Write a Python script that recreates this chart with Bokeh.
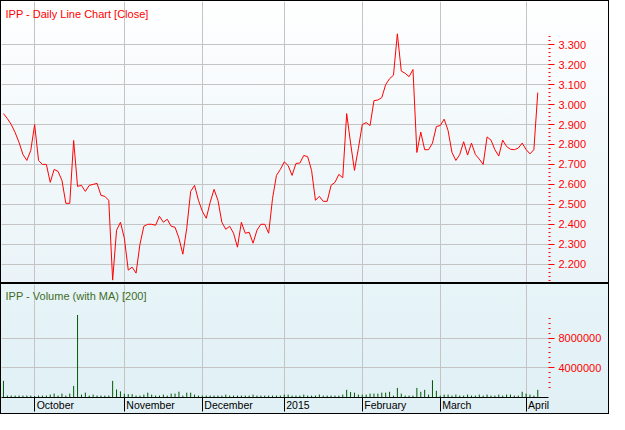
from bokeh.plotting import figure
from bokeh.layouts import column
from bokeh.models import FixedTicker, PrintfTickFormatter, Label, Range1d
from bokeh.embed import file_html
from bokeh.resources import INLINE

# ---------------- data ----------------
close = [
    2.955, 2.93, 2.90, 2.86, 2.81, 2.75, 2.72, 2.77, 2.90, 2.72,
    2.70, 2.70, 2.61, 2.675, 2.665, 2.62, 2.505, 2.505, 2.82, 2.59,
    2.595, 2.565, 2.595, 2.60, 2.605, 2.545, 2.54, 2.52, 2.12, 2.37,
    2.41, 2.33, 2.17, 2.185, 2.155, 2.30, 2.39, 2.40, 2.40, 2.395,
    2.44, 2.41, 2.425, 2.39, 2.385, 2.33, 2.25, 2.38, 2.565, 2.595,
    2.52, 2.465, 2.43, 2.51, 2.575, 2.52, 2.41, 2.375, 2.39, 2.355,
    2.285, 2.41, 2.355, 2.36, 2.305, 2.37, 2.40, 2.40, 2.355, 2.53,
    2.645, 2.675, 2.713, 2.694, 2.645, 2.705, 2.707, 2.745, 2.739, 2.67,
    2.52, 2.54, 2.515, 2.515, 2.595, 2.61, 2.65, 2.633, 2.955, 2.807,
    2.67, 2.78, 2.90, 2.91, 2.895, 3.02, 3.023, 3.035, 3.10, 3.13,
    3.147, 3.355, 3.168, 3.157, 3.14, 3.176, 2.76, 2.862, 2.774, 2.774,
    2.807, 2.89, 2.895, 2.927, 2.87, 2.76, 2.72, 2.75, 2.814, 2.747,
    2.807, 2.75, 2.727, 2.70, 2.838, 2.822, 2.774, 2.742, 2.822, 2.79,
    2.776, 2.774, 2.782, 2.807, 2.775, 2.753, 2.774, 3.06,
]

volume = [
    2240000, 260000, 260000, 260000, 260000, 260000, 260000, 260000, 200000, 260000,
    260000, 260000, 390000, 520000, 260000, 520000, 260000, 520000, 1550000, 11100000,
    390000, 650000, 260000, 390000, 260000, 260000, 260000, 260000, 2240000, 1080000,
    820000, 500000, 450000, 450000, 260000, 260000, 390000, 650000, 390000, 260000,
    260000, 390000, 260000, 520000, 520000, 780000, 260000, 650000, 650000, 390000,
    260000, 260000, 260000, 260000, 260000, 260000, 260000, 390000, 260000, 260000,
    260000, 260000, 260000, 260000, 390000, 260000, 260000, 260000, 260000, 260000,
    260000, 260000, 390000, 390000, 260000, 260000, 260000, 390000, 260000, 260000,
    260000, 390000, 260000, 260000, 260000, 260000, 260000, 390000, 1030000, 730000,
    650000, 390000, 390000, 390000, 520000, 520000, 520000, 650000, 650000, 770000,
    260000, 1290000, 520000, 260000, 260000, 260000, 1290000, 770000, 1030000, 390000,
    2320000, 900000, 260000, 390000, 390000, 260000, 390000, 260000, 260000, 390000,
    260000, 260000, 390000, 260000, 390000, 260000, 260000, 390000, 260000, 390000,
    390000, 260000, 260000, 770000, 520000, 390000, 260000, 1030000,
]

days = list(range(len(close)))

month_starts = [8, 31, 51, 72, 92, 112, 134]
month_labels = ["October", "November", "December", "2015", "February", "March", "April"]

price_ticks = [2.2, 2.3, 2.4, 2.5, 2.6, 2.7, 2.8, 2.9, 3.0, 3.1, 3.2, 3.3]
volume_ticks = [4000000, 8000000]

price_title = "IPP - Daily Line Chart [Close]"
volume_title = "IPP - Volume (with MA) [200]"

# ---------------- layout / style ----------------
FONT = "Liberation Sans"
W = 607
H1 = 281
H2 = 129
RB = 60
GRID = "#c4c4c4"
X0, X1 = -0.5, 139.75

# month labels sit just right of their separator: centre each label half its
# (Arial-metric) width plus a 2px gap to the right of the month start
ADV = {"O": 778, "c": 500, "t": 278, "o": 556, "b": 556, "e": 556, "r": 333,
       "N": 722, "v": 500, "m": 833, "D": 722, "2": 556, "0": 556, "1": 556,
       "5": 556, "F": 611, "u": 556, "a": 556, "y": 500, "M": 833, "h": 556,
       "A": 667, "p": 556, "i": 222, "l": 222}
MONTH_FS = 10.5
px_per_day = (W - RB) / (X1 - X0)
label_pos = [m + (sum(ADV[c] for c in lab) * MONTH_FS / 1000 / 2 + 2) / px_per_day
             for m, lab in zip(month_starts, month_labels)]

xr = Range1d(X0, X1)

p1 = figure(width=W, height=H1, x_range=xr, y_range=Range1d(2.108, 3.517),
            output_backend="svg", toolbar_location=None,
            x_axis_location=None, y_axis_location="right",
            min_border_left=0, min_border_right=RB, min_border_top=0, min_border_bottom=0)
p1.styles = {"background": "linear-gradient(to bottom, #ffffff 0%, #f3f9fb 45%, #eaf4f8 100%)"}
p1.background_fill_alpha = 0
p1.border_fill_alpha = 0
p1.outline_line_color = None

p1.line(days, close, line_color="#ff0000", line_width=1)

ya = p1.yaxis[0]
ya.ticker = FixedTicker(ticks=price_ticks,
                        minor_ticks=[round(2.12 + 0.02 * k, 2) for k in range(62)])
ya.formatter = PrintfTickFormatter(format="%.3f")
ya.axis_line_color = None
ya.major_tick_line_color = "#ff0000"
ya.minor_tick_line_color = "#ff0000"
ya.major_tick_in = 0
ya.major_tick_out = 6
ya.minor_tick_in = 0
ya.minor_tick_out = 2
ya.major_label_standoff = 4
ya.major_label_text_color = "#ff0000"
ya.major_label_text_font = FONT
ya.major_label_text_font_size = "11px"

p1.ygrid.grid_line_color = GRID
p1.xgrid.ticker = FixedTicker(ticks=month_starts)
p1.xgrid.grid_line_color = GRID

p1.add_layout(Label(x=4, x_units="screen", y=p1.y_range.end, y_units="data", y_offset=-6,
                    text=price_title, text_color="#ff0000", text_font=FONT,
                    text_font_size="11px", text_baseline="top"))

p2 = figure(width=W, height=H2, x_range=xr, y_range=Range1d(0, 15200000),
            output_backend="svg", toolbar_location=None, y_axis_location="right",
            min_border_left=0, min_border_right=RB, min_border_top=0, min_border_bottom=0)
p2.styles = {"background": "linear-gradient(to bottom, #e7f4f8 0%, #e0f0f5 100%)"}
p2.background_fill_alpha = 0
p2.border_fill_alpha = 0
p2.outline_line_color = None

p2.segment(x0=days, y0=0, x1=days, y1=volume, line_color="#005a00", line_width=1)

va = p2.yaxis[0]
va.ticker = FixedTicker(ticks=volume_ticks,
                        minor_ticks=[k * 2000000 / 3 for k in range(2, 17)])
va.formatter = PrintfTickFormatter(format="%d")
va.axis_line_color = None
va.major_tick_line_color = "#ff0000"
va.minor_tick_line_color = "#ff0000"
va.major_tick_in = 0
va.major_tick_out = 6
va.minor_tick_in = 0
va.minor_tick_out = 2
va.major_label_standoff = 4
va.major_label_text_color = "#ff0000"
va.major_label_text_font = FONT
va.major_label_text_font_size = "11px"

xa = p2.xaxis[0]
# labels on major ticks (hidden tick marks); month separators drawn as minor ticks
xa.ticker = FixedTicker(ticks=label_pos, minor_ticks=month_starts)
xa.major_label_overrides = {pos: lab for pos, lab in zip(label_pos, month_labels)}
xa.axis_line_color = "#000000"
xa.major_tick_line_color = None
xa.major_tick_in = 0
xa.major_tick_out = 0
xa.minor_tick_line_color = "#000000"
xa.minor_tick_in = 0
xa.minor_tick_out = 14
xa.major_label_standoff = -13
xa.major_label_text_color = "#000000"
xa.major_label_text_font = FONT
xa.major_label_text_font_size = f"{MONTH_FS}px"

p2.ygrid.grid_line_color = GRID
p2.xgrid.ticker = FixedTicker(ticks=month_starts)
p2.xgrid.grid_line_color = GRID

p2.add_layout(Label(x=4, x_units="screen", y=p2.y_range.end, y_units="data", y_offset=-5,
                    text=volume_title, text_color="#3f6d1f", text_font=FONT,
                    text_font_size="11px", text_baseline="top"))

layout = column(p1, p2, spacing=2,
                styles={"background-color": "#000000", "border": "1px solid #000000"})

open("out.html", "w").write(file_html(layout, INLINE))
